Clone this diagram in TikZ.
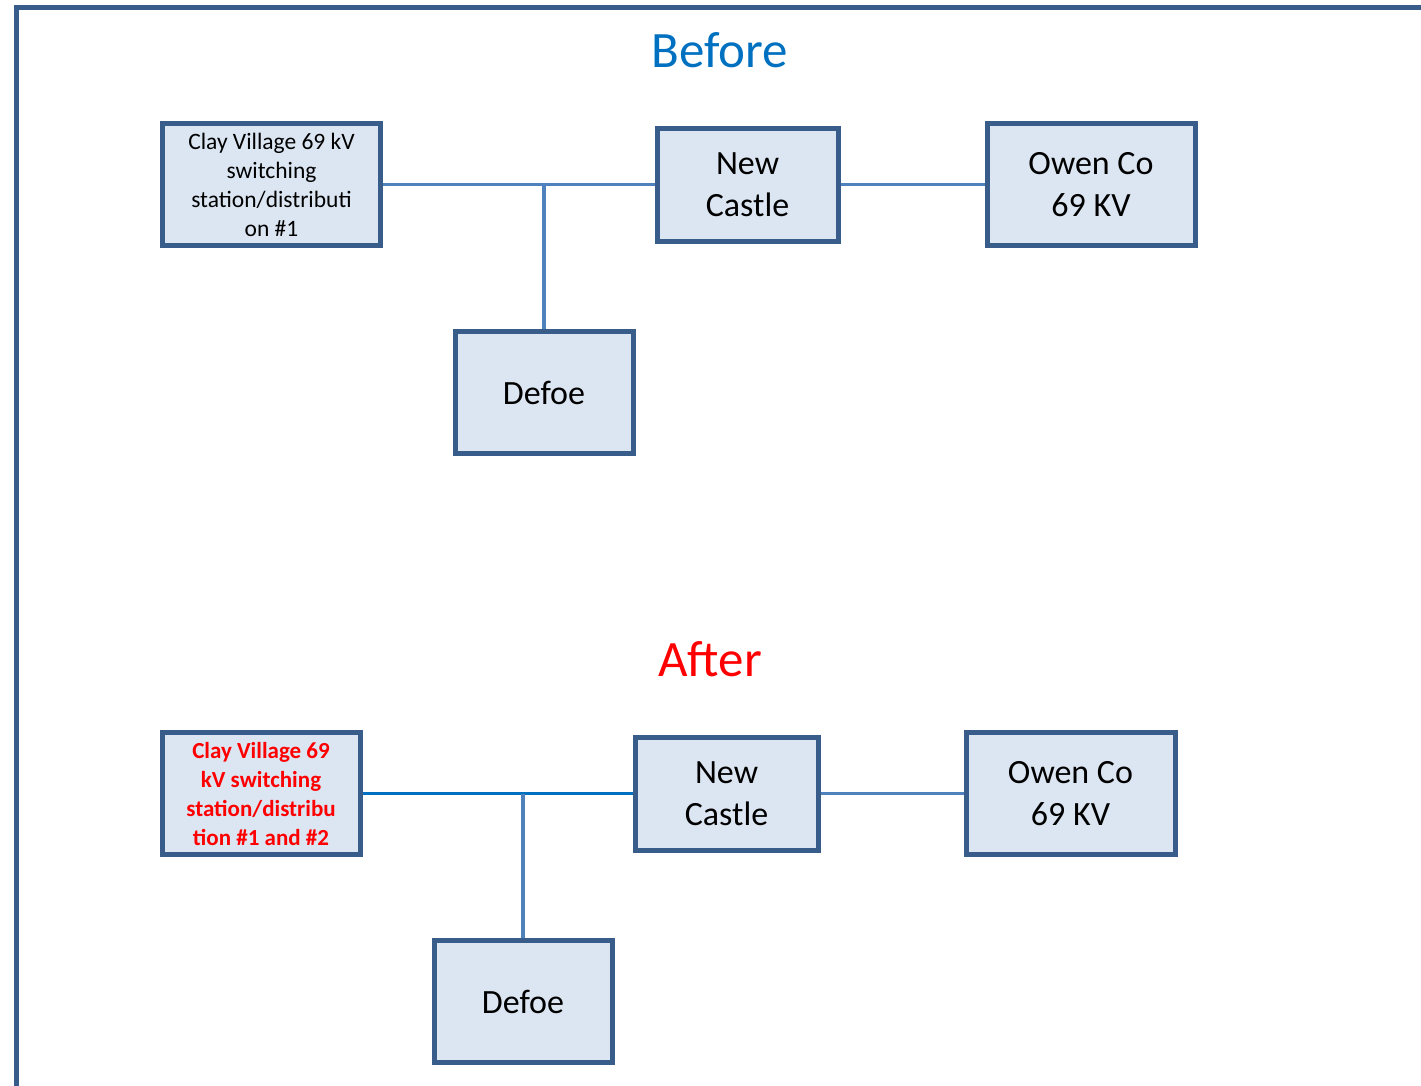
\documentclass[tikz,border=0pt]{standalone}
\usepackage{fontspec}
\setmainfont{Carlito}
\definecolor{boxfill}{HTML}{DCE6F2}
\definecolor{boxline}{HTML}{385D8A}
\definecolor{conn}{HTML}{4F81BD}
\definecolor{connb}{HTML}{0070C0}
\definecolor{titleblue}{HTML}{0070C0}
\definecolor{titlered}{HTML}{FF0000}
\begin{document}
\begin{tikzpicture}[x=1pt,y=-1pt,
  station/.style={draw=boxline, fill=boxfill, line width=5pt, rectangle, inner sep=0pt, align=center, font=\fontsize{34}{42}\selectfont},
  smallstation/.style={station, font=\fontsize{23.5}{29}\selectfont},
  link/.style={draw=conn, line width=3.2pt},
  title/.style={font=\fontsize{51}{55}\selectfont}]
\useasboundingbox (0,0) rectangle (1421,1085);
\draw[boxline, line width=5pt] (16.5,1090) -- (16.5,7) -- (1425,7);

% Before
\node[title, text=titleblue] (tb) at (720,50) {Before};
\node[smallstation, minimum width=218, minimum height=122] (c1) at (271.5,184.5) {Clay Village 69 kV\\switching\\station/distributi\\on \#1};
\node[station, minimum width=181, minimum height=113] (n1) at (747.5,184.5) {New\\Castle};
\node[station, minimum width=208, minimum height=122] (o1) at (1091,184.5) {Owen Co\\69 KV};
\node[station, minimum width=178, minimum height=122] (d1) at (544,392.5) {Defoe};
\draw[link] (c1.east) -- (n1.west);
\draw[link] (n1.east) -- (o1.west);
\draw[link] (d1.north) -- (d1.north |- c1.east);

% After
\node[title, text=titlered] (ta) at (710,659) {After};
\node[smallstation, minimum width=198, minimum height=122, text=titlered, font=\fontsize{23}{29}\selectfont\bfseries] (c2) at (261,793.5) {Clay Village 69\\kV switching\\station/distribu\\tion \#1 and \#2};
\node[station, minimum width=183, minimum height=113] (n2) at (726.5,793.5) {New\\Castle};
\node[station, minimum width=209, minimum height=122] (o2) at (1070.5,793.5) {Owen Co\\69 KV};
\node[station, minimum width=178, minimum height=122] (d2) at (523,1001.5) {Defoe};
\draw[link, draw=connb] (c2.east) -- (n2.west);
\draw[link] (n2.east) -- (o2.west);
\draw[link] (d2.north) -- (d2.north |- c2.east);
\end{tikzpicture}
\end{document}
